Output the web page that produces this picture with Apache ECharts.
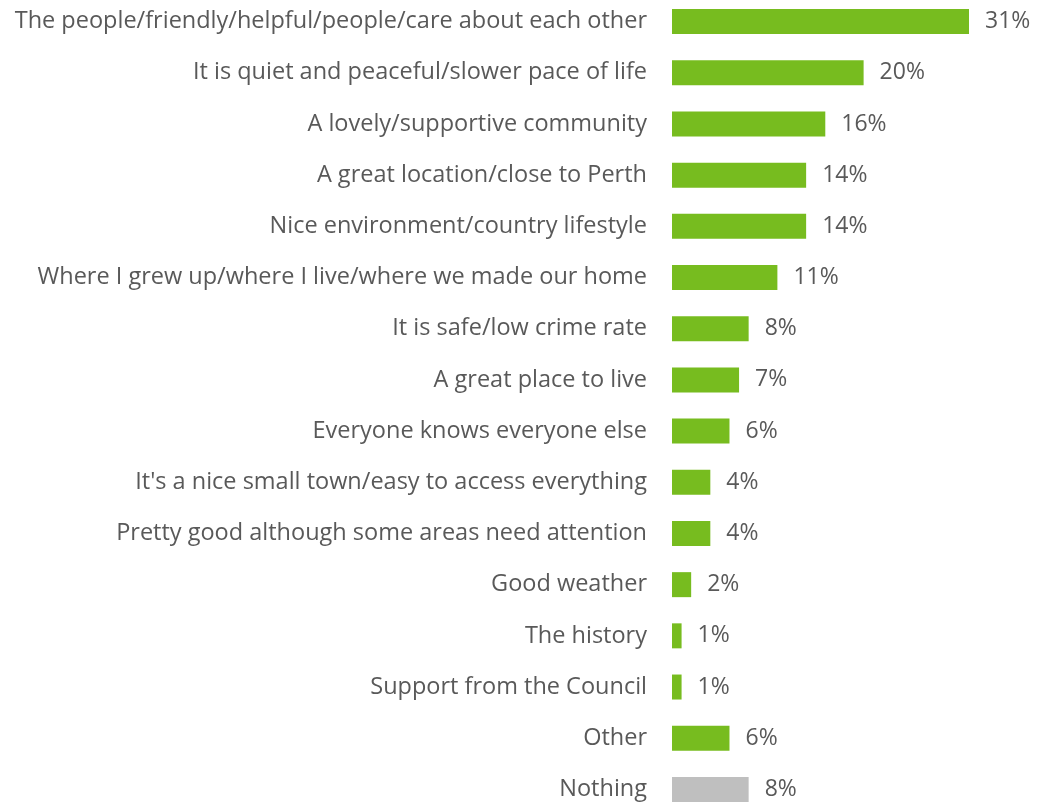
<!DOCTYPE html>
<html>
<head>
<meta charset="utf-8">
<script src="https://cdn.jsdelivr.net/npm/echarts@6/dist/echarts.min.js"></script>
<style>
  html, body { margin: 0; padding: 0; background: #fff; overflow: hidden; }
  #chart { position: absolute; left: 0; top: -4px; width: 1038px; height: 819px; }
</style>
</head>
<body>
<div id="chart"></div>
<script>
// categories top to bottom
const categories = [
  "The people/friendly/helpful/people/care about each other",
  "It is quiet and peaceful/slower pace of life",
  "A lovely/supportive community",
  "A great location/close to Perth",
  "Nice environment/country lifestyle",
  "Where I grew up/where I live/where we made our home",
  "It is safe/low crime rate",
  "A great place to live",
  "Everyone knows everyone else",
  "It's a nice small town/easy to access everything",
  "Pretty good although some areas need attention",
  "Good weather",
  "The history",
  "Support from the Council",
  "Other",
  "Nothing"
];
const values = [31, 20, 16, 14, 14, 11, 8, 7, 6, 4, 4, 2, 1, 1, 6, 8];
const greyCategories = ["Nothing"];

const GREEN = "#77BC1F";
const GREY = "#BFBFBF";
const TEXT = "#595959";
const FONT = "'Open Sans', sans-serif";

const chart = echarts.init(document.getElementById("chart"));

chart.setOption({
  animation: false,
  grid: {
    left: 672,
    top: 0,
    bottom: 0,
    right: 69,
    containLabel: false
  },
  xAxis: {
    type: "value",
    min: 0,
    max: 31,
    show: false
  },
  yAxis: {
    type: "category",
    inverse: true,
    data: categories,
    axisLine: { show: false },
    axisTick: { show: false },
    axisLabel: {
      margin: 25,
      color: TEXT,
      fontFamily: FONT,
      fontSize: 23.5
    }
  },
  series: [
    {
      type: "bar",
      barWidth: 25,
      data: values.map((v, i) => ({
        value: v,
        itemStyle: { color: greyCategories.includes(categories[i]) ? GREY : GREEN }
      })),
      label: {
        show: true,
        position: "right",
        distance: 16,
        color: TEXT,
        fontFamily: FONT,
        fontSize: 23,
        formatter: "{c}%"
      }
    }
  ]
});
</script>
</body>
</html>
